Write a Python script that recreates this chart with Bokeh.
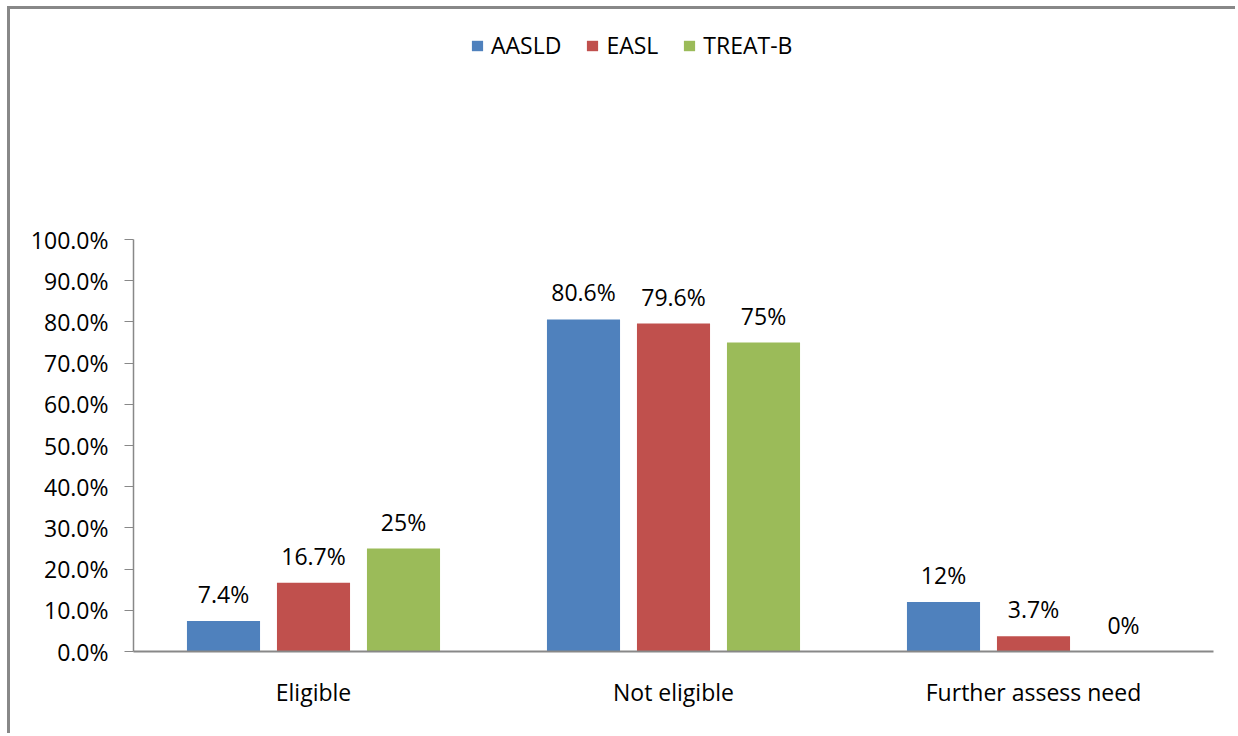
from bokeh.plotting import figure
from bokeh.models import ColumnDataSource, FactorRange, PrintfTickFormatter, FixedTicker, Range1d
from bokeh.transform import dodge
from bokeh.core.properties import value
from bokeh.embed import file_html
from bokeh.resources import INLINE

categories = ["Eligible", "Not eligible", "Further assess need"]
series = ["AASLD", "EASL", "TREAT-B"]
aasld = [7.4, 80.6, 12.0]
easl = [16.7, 79.6, 3.7]
treatb = [25.0, 75.0, 0.0]
aasld_labels = ["7.4%", "80.6%", "12%"]
easl_labels = ["16.7%", "79.6%", "3.7%"]
treatb_labels = ["25%", "75%", "0%"]
y_ticks = [0, 10, 20, 30, 40, 50, 60, 70, 80, 90, 100]
colors = ["#4F81BD", "#C0504D", "#9BBB59"]

FONT = "Open Sans"
FS = "23px"

src = ColumnDataSource(data=dict(
    cat=categories, AASLD=aasld, EASL=easl, TREATB=treatb,
    l_AASLD=aasld_labels, l_EASL=easl_labels, l_TREATB=treatb_labels,
))

# frame extends to the top of the canvas so the legend (drawn inside it) is not clipped;
# 100% sits 412 px above the baseline, frame height 642 px
p = figure(width=1228, height=727, x_range=FactorRange(factors=categories),
           y_range=Range1d(0, 100 * 642 / 412), output_backend="svg", toolbar_location=None,
           min_border_left=123, min_border_right=25, min_border_top=0, min_border_bottom=85)
p.title.visible = False
p.styles = {"margin-left": "7px", "margin-top": "6px",
            "border-left": "3px solid #888888", "border-top": "3px solid #888888"}

offsets = [-0.25, 0.0, 0.25]
cols = ["AASLD", "EASL", "TREATB"]
for col, name, off, c in zip(cols, series, offsets, colors):
    p.vbar(x=dodge("cat", off, range=p.x_range), top=col, width=0.203, source=src,
           color=c, line_color=None, legend_label=name)
    p.text(x=dodge("cat", off, range=p.x_range), y=col, text="l_" + col, source=src,
           text_align="center", text_baseline="alphabetic", y_offset=-27,
           text_font=value(FONT), text_font_size=FS, text_color="#000000")

p.xgrid.visible = False
p.ygrid.visible = False
p.outline_line_color = None

p.yaxis.ticker = FixedTicker(ticks=y_ticks)
p.yaxis.bounds = (0, 100)
p.yaxis.formatter = PrintfTickFormatter(format="%.1f%%")
p.yaxis.minor_tick_line_color = None
p.yaxis.major_tick_in = 0
p.yaxis.major_tick_out = 9
p.yaxis.major_tick_line_color = "#888888"
p.yaxis.axis_line_color = "#888888"
p.yaxis.axis_line_width = 1.5
p.yaxis.major_label_standoff = 16
p.yaxis.major_label_text_font = FONT
p.yaxis.major_label_text_font_size = FS
p.yaxis.major_label_text_color = "#000000"

p.xaxis.major_tick_line_color = None
p.xaxis.minor_tick_line_color = None
p.xaxis.axis_line_color = "#888888"
p.xaxis.axis_line_width = 2
p.xaxis.major_label_standoff = 18
p.xaxis.major_label_text_font = FONT
p.xaxis.major_label_text_font_size = FS
p.xaxis.major_label_text_color = "#000000"

lg = p.legend[0]
lg.orientation = "horizontal"
lg.location = (337, 590)
lg.border_line_color = None
lg.background_fill_alpha = 0
lg.padding = 0
lg.margin = 0
lg.spacing = 24
lg.glyph_width = 14
lg.glyph_height = 13
lg.label_standoff = 7
lg.label_text_font = FONT
lg.label_text_font_size = FS
lg.label_text_color = "#000000"

open("out.html", "w").write(file_html(p, INLINE))
